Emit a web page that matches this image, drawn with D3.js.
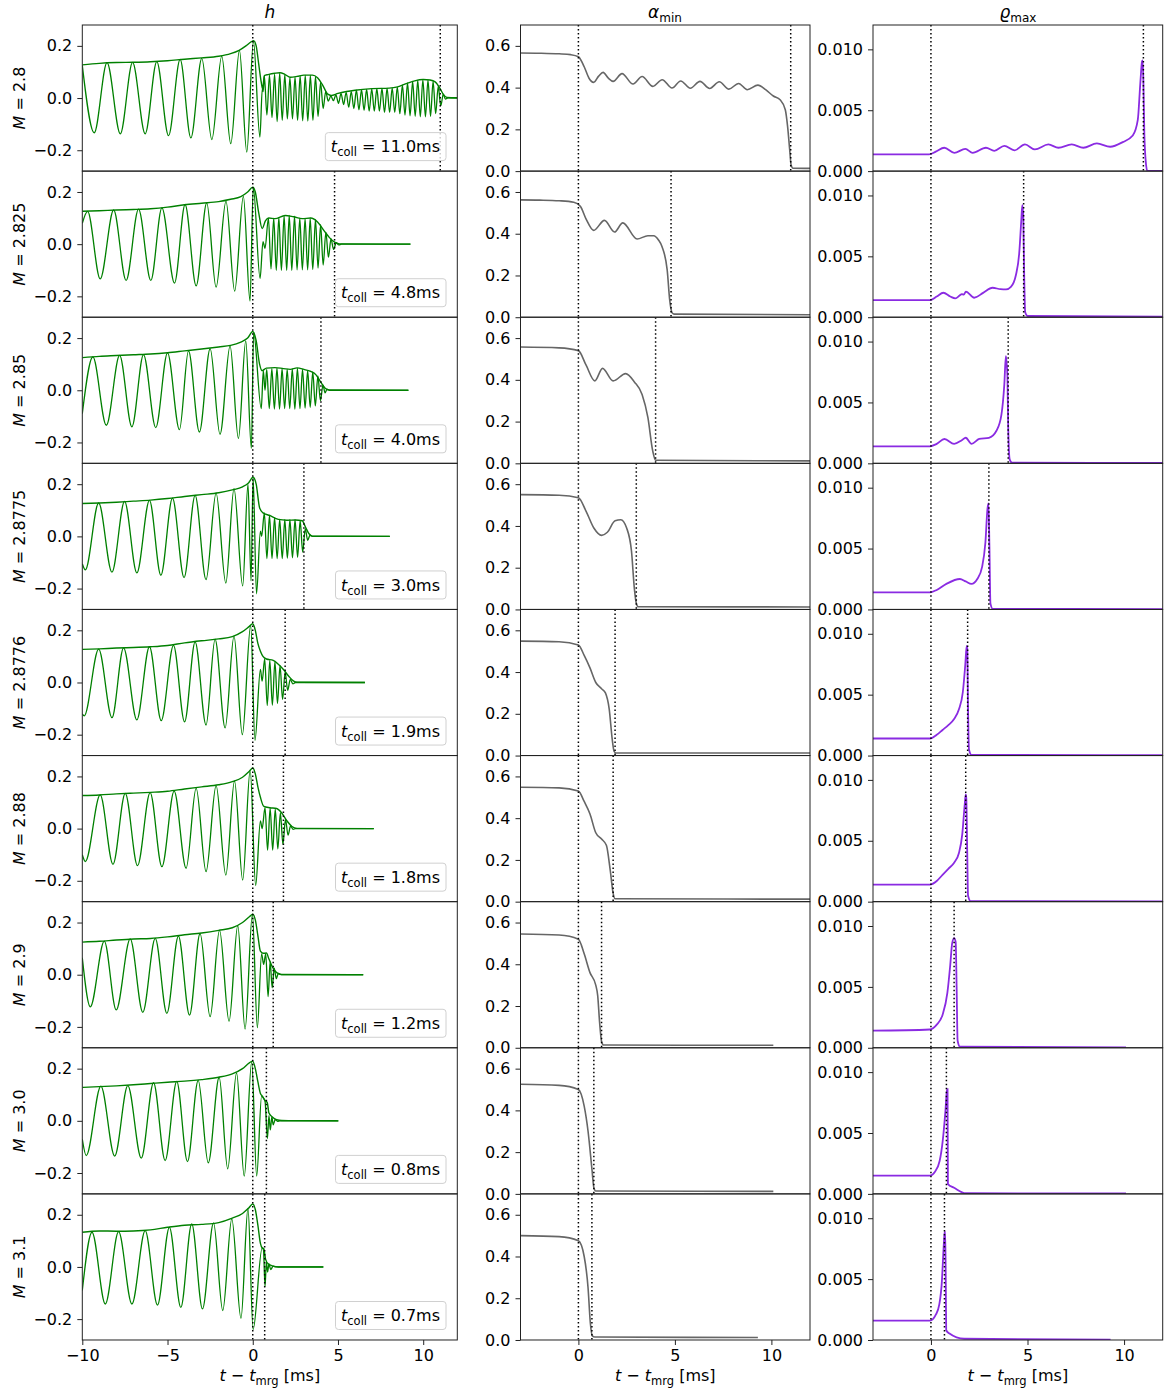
<!DOCTYPE html>
<html>
<head>
<meta charset="utf-8">
<script src="https://cdn.jsdelivr.net/npm/d3@7"></script>
<style>
  body { margin: 0; background: #fff; }
  svg { display: block; }
  text { font-family: "DejaVu Sans", sans-serif; }
</style>
</head>
<body>
<svg id="fig" width="1168" height="1390"></svg>
<script>
// ---- runs, one per row ----
const masses = ["2.8", "2.825", "2.85", "2.8775", "2.8776", "2.88", "2.9", "3.0", "3.1"];
const tColl  = [11.0, 4.8, 4.0, 3.0, 1.9, 1.8, 1.2, 0.8, 0.7];

// ---- strain h: extrema [t (ms), h] ----
const strainM2800 = [[-10,0.125],[-9.30,-0.133],[-8.55,0.136],[-7.77,-0.137],[-7.05,0.137],[-6.31,-0.137],[-5.63,0.140],[-4.94,-0.144],[-4.26,0.148],[-3.63,-0.153],[-2.99,0.152],[-2.40,-0.159],[-1.82,0.161],[-1.29,-0.175],[-0.78,0.183],[-0.35,-0.207],[0.04,0.218],[0.42,-0.15],[0.56,0.035],[0.61,0.025],
  [0.68,0.085],[0.83,-0.065],[0.98,0.088],[1.13,-0.075],[1.28,0.092],[1.43,-0.09],[1.58,0.095],[1.73,-0.085],[1.88,0.090],[2.03,-0.08],[2.18,0.078],[2.33,-0.08],[2.48,0.080],[2.63,-0.085],[2.78,0.086],[2.93,-0.087],[3.08,0.087],[3.23,-0.088],[3.38,0.087],[3.53,-0.085],[3.68,0.082],[3.83,-0.07],[3.98,0.06],[4.13,-0.04],[4.28,0.025],[4.43,-0.012],[4.58,0.008],[4.73,-0.01],[4.88,0.012],[5.03,-0.02],[5.18,0.018],[5.33,-0.025],[5.48,0.022],[5.63,-0.035],[5.78,0.025],[5.93,-0.04],[6.08,0.03],[6.23,-0.045],[6.38,0.032],[6.53,-0.047],[6.68,0.033],[6.83,-0.05],[6.98,0.035],[7.13,-0.05],[7.28,0.036],[7.43,-0.05],[7.58,0.037],[7.73,-0.055],[7.88,0.037],[8.03,-0.055],[8.18,0.038],[8.33,-0.055],[8.48,0.042],[8.63,-0.06],[8.78,0.05],[8.93,-0.065],[9.08,0.058],[9.23,-0.068],[9.38,0.064],[9.53,-0.07],[9.68,0.068],[9.83,-0.072],[9.98,0.07],[10.13,-0.072],[10.28,0.069],[10.43,-0.07],[10.58,0.064],[10.73,-0.06],[10.88,0.045],[11.03,-0.03],[11.18,0.015],[11.3,-0.004],[11.45,0.001],[12,0]];
const strainM2825 = [[-10,0.08],[-9.69,0.126],[-8.95,-0.133],[-8.16,0.131],[-7.43,-0.139],[-6.70,0.134],[-5.98,-0.139],[-5.33,0.139],[-4.59,-0.149],[-3.97,0.152],[-3.32,-0.16],[-2.70,0.158],[-2.15,-0.165],[-1.57,0.165],[-1.06,-0.18],[-0.55,0.183],[-0.16,-0.218],[0.03,0.218],
  [0.43,-0.131],[0.6,0.01],[0.72,-0.016],[0.92,0.1],[1.07,-0.095],[1.23,0.1],[1.38,-0.1],[1.53,0.103],[1.68,-0.1],[1.84,0.108],[1.99,-0.1],[2.14,0.11],[2.29,-0.1],[2.45,0.107],[2.6,-0.098],[2.76,0.1],[2.91,-0.098],[3.07,0.098],[3.22,-0.098],[3.37,0.1],[3.52,-0.097],[3.68,0.095],[3.83,-0.092],[3.98,0.075],[4.13,-0.08],[4.29,0.045],[4.44,-0.05],[4.59,0.02],[4.74,-0.02],[4.9,0.006],[5.05,-0.003],[5.2,0],[9.25,0]];
const strainM2850 = [[-10,-0.09],[-9.38,0.128],[-8.59,-0.134],[-7.81,0.134],[-7.09,-0.14],[-6.41,0.137],[-5.69,-0.143],[-5.0,0.143],[-4.3,-0.151],[-3.77,0.151],[-3.13,-0.16],[-2.5,0.16],[-1.92,-0.169],[-1.33,0.17],[-0.84,-0.185],[-0.41,0.189],[-0.08,-0.223],[0.05,0.222],
  [0.5,-0.07],[0.62,0.075],[0.72,0.0],[0.82,0.08],[0.97,-0.07],[1.12,0.083],[1.27,-0.072],[1.42,0.085],[1.57,-0.072],[1.72,0.083],[1.87,-0.07],[2.02,0.08],[2.17,-0.07],[2.32,0.082],[2.47,-0.072],[2.62,0.084],[2.77,-0.07],[2.92,0.08],[3.07,-0.068],[3.22,0.075],[3.37,-0.065],[3.52,0.07],[3.67,-0.06],[3.82,0.055],[3.97,-0.04],[4.12,0.02],[4.24,-0.01],[4.36,0.004],[4.5,0],[9.13,0]];
const strainM2877 = [[-10,-0.105],[-9.82,-0.128],[-9.04,0.128],[-8.26,-0.137],[-7.52,0.134],[-6.8,-0.14],[-6.06,0.138],[-5.39,-0.149],[-4.71,0.147],[-4.03,-0.158],[-3.38,0.157],[-2.74,-0.166],[-2.15,0.166],[-1.58,-0.179],[-1.1,0.183],[-0.59,-0.19],[-0.28,0.2],[-0.1,-0.17],[0.02,0.226],[0.22,-0.22],
  [0.45,0.02],[0.52,0.0],[0.68,0.09],[0.83,-0.085],[0.98,0.08],[1.13,-0.085],[1.28,0.072],[1.43,-0.085],[1.58,0.065],[1.73,-0.085],[1.88,0.064],[2.03,-0.083],[2.18,0.064],[2.33,-0.082],[2.48,0.064],[2.63,-0.08],[2.78,0.06],[2.93,-0.06],[3.08,0.03],[3.22,-0.015],[3.36,0.005],[3.5,0],[8.04,0]];
const strainM2878 = [[-10,-0.12],[-9.89,-0.128],[-9.04,0.128],[-8.26,-0.135],[-7.58,0.133],[-6.8,-0.143],[-6.06,0.137],[-5.37,-0.146],[-4.65,0.142],[-4.0,-0.151],[-3.38,0.156],[-2.74,-0.163],[-2.21,0.166],[-1.62,-0.174],[-1.1,0.178],[-0.61,-0.2],[-0.12,0.22],[0.13,-0.222],
  [0.45,0.05],[0.55,0.005],[0.7,0.09],[0.85,-0.088],[1.0,0.085],[1.15,-0.087],[1.3,0.08],[1.45,-0.08],[1.6,0.065],[1.75,-0.065],[1.9,0.04],[2.05,-0.03],[2.2,0.012],[2.35,-0.005],[2.5,0],[6.58,0]];
const strainM2880 = [[-10,-0.1],[-9.82,-0.126],[-8.95,0.129],[-8.2,-0.137],[-7.48,0.135],[-6.76,-0.142],[-6.02,0.138],[-5.33,-0.146],[-4.61,0.144],[-3.91,-0.152],[-3.32,0.155],[-2.74,-0.165],[-2.15,0.165],[-1.58,-0.178],[-1.07,0.183],[-0.59,-0.197],[-0.15,0.225],[0.17,-0.218],
  [0.45,0.03],[0.55,0.0],[0.72,0.08],[0.87,-0.082],[1.02,0.078],[1.17,-0.082],[1.32,0.075],[1.47,-0.078],[1.62,0.06],[1.77,-0.06],[1.92,0.035],[2.07,-0.025],[2.22,0.01],[2.37,-0.003],[2.5,0],[7.1,0]];
const strainM2900 = [[-10,0.065],[-9.53,-0.123],[-8.71,0.129],[-8.01,-0.135],[-7.19,0.137],[-6.45,-0.144],[-5.72,0.139],[-5.04,-0.148],[-4.36,0.148],[-3.71,-0.155],[-3.09,0.158],[-2.5,-0.161],[-1.95,0.171],[-1.39,-0.178],[-0.88,0.188],[-0.45,-0.208],[-0.02,0.231],[0.27,-0.203],
  [0.52,0.08],[0.64,0.04],[0.76,0.08],[0.9,-0.084],[1.02,0.05],[1.14,-0.05],[1.26,0.025],[1.38,-0.015],[1.5,0.005],[1.65,0],[6.48,0]];
const strainM3000 = [[-10,-0.07],[-9.77,-0.133],[-8.91,0.133],[-8.1,-0.135],[-7.33,0.135],[-6.54,-0.143],[-5.82,0.146],[-5.14,-0.152],[-4.46,0.151],[-3.83,-0.156],[-3.2,0.155],[-2.61,-0.161],[-1.97,0.167],[-1.47,-0.184],[-0.95,0.184],[-0.5,-0.212],[-0.06,0.227],[0.23,-0.212],
  [0.52,0.095],[0.72,0.075],[0.86,-0.068],[0.95,0.02],[1.03,-0.035],[1.12,0.015],[1.2,-0.015],[1.32,0.005],[1.45,-0.002],[1.6,0],[5.02,0]];
const strainM3100 = [[-10,-0.09],[-9.43,0.133],[-8.65,-0.142],[-7.87,0.135],[-7.09,-0.142],[-6.31,0.139],[-5.59,-0.146],[-4.89,0.152],[-4.22,-0.155],[-3.58,0.165],[-2.95,-0.161],[-2.3,0.169],[-1.76,-0.167],[-1.23,0.184],[-0.69,-0.197],[-0.28,0.225],[0.02,-0.24],
  [0.55,0.072],[0.63,0.065],[0.72,-0.075],[0.8,0.02],[0.87,-0.02],[0.95,0.012],[1.05,-0.01],[1.2,0.003],[1.35,0],[4.14,0]];

// ---- strain amplitude |h| ----
const ampM2800 = [[-10,0.127],[-9,0.133],[-8,0.136],[-7,0.137],[-6,0.139],[-5,0.143],[-4,0.149],[-3,0.154],[-2,0.16],[-1.3,0.17],[-0.8,0.183],[-0.4,0.2],[-0.1,0.215],[0.05,0.22],[0.2,0.2],[0.35,0.13],[0.5,0.06],[0.58,0.035],[0.68,0.086],[0.9,0.09],[1.3,0.095],[1.6,0.097],[1.9,0.09],[2.2,0.08],[2.6,0.083],[3.0,0.088],[3.5,0.088],[3.8,0.078],[4.1,0.05],[4.4,0.015],[4.6,0.01],[5.0,0.018],[5.5,0.025],[6,0.03],[7,0.036],[8,0.038],[8.5,0.043],[9,0.055],[9.5,0.066],[10,0.071],[10.4,0.069],[10.7,0.062],[11.0,0.035],[11.2,0.012],[11.4,0.002],[12,0.001]];
const ampM2825 = [[-10,0.126],[-9,0.128],[-8,0.131],[-7,0.133],[-6,0.136],[-5,0.142],[-4,0.151],[-3,0.157],[-2,0.163],[-1.3,0.172],[-0.7,0.182],[-0.3,0.2],[0.0,0.218],[0.15,0.2],[0.35,0.12],[0.55,0.06],[0.75,0.09],[0.95,0.1],[1.3,0.098],[1.9,0.11],[2.4,0.105],[2.9,0.098],[3.4,0.1],[3.8,0.085],[4.2,0.05],[4.5,0.025],[4.8,0.008],[5.1,0.001],[9.25,0.0]];
const ampM2850 = [[-10,0.125],[-9,0.13],[-8,0.133],[-7,0.136],[-6,0.139],[-5,0.144],[-4,0.151],[-3,0.158],[-2,0.166],[-1.3,0.172],[-0.7,0.185],[-0.3,0.2],[0.0,0.225],[0.2,0.19],[0.4,0.1],[0.55,0.075],[0.8,0.085],[1.3,0.087],[1.8,0.083],[2.2,0.08],[2.6,0.086],[3.0,0.08],[3.4,0.072],[3.7,0.06],[4.0,0.03],[4.25,0.008],[4.5,0.001],[9.13,0]];
const ampM2877 = [[-10,0.126],[-9,0.128],[-8,0.131],[-7,0.135],[-6,0.139],[-5,0.145],[-4,0.153],[-3,0.16],[-2,0.167],[-1.2,0.178],[-0.6,0.19],[-0.25,0.205],[0.02,0.227],[0.2,0.2],[0.4,0.11],[0.6,0.09],[1.0,0.08],[1.5,0.065],[2.0,0.062],[2.5,0.063],[2.9,0.06],[3.1,0.035],[3.3,0.01],[3.5,0.001],[8.04,0]];
const ampM2878 = [[-10,0.127],[-9,0.129],[-8,0.132],[-7,0.134],[-6,0.137],[-5,0.142],[-4,0.152],[-3,0.16],[-2,0.167],[-1.2,0.176],[-0.6,0.195],[-0.2,0.215],[0.0,0.225],[0.15,0.2],[0.3,0.15],[0.45,0.12],[0.6,0.1],[0.8,0.09],[1.2,0.085],[1.5,0.07],[1.8,0.05],[2.1,0.025],[2.4,0.005],[2.6,0.001],[6.58,0]];
const ampM2880 = [[-10,0.127],[-9,0.129],[-8,0.133],[-7,0.136],[-6,0.139],[-5,0.143],[-4,0.152],[-3,0.16],[-2,0.168],[-1.2,0.18],[-0.6,0.197],[-0.2,0.22],[0.0,0.232],[0.15,0.21],[0.3,0.16],[0.45,0.12],[0.65,0.085],[1.0,0.08],[1.4,0.077],[1.7,0.06],[2.0,0.03],[2.3,0.008],[2.6,0.001],[7.1,0]];
const ampM2900 = [[-10,0.125],[-9,0.128],[-8,0.133],[-7,0.137],[-6,0.139],[-5,0.145],[-4,0.153],[-3,0.16],[-2,0.17],[-1.2,0.18],[-0.6,0.2],[-0.2,0.222],[0.0,0.232],[0.15,0.21],[0.3,0.15],[0.45,0.09],[0.6,0.082],[0.8,0.083],[0.95,0.06],[1.15,0.03],[1.4,0.008],[1.7,0.001],[6.48,0]];
const ampM3000 = [[-10,0.128],[-9,0.131],[-8,0.134],[-7,0.138],[-6,0.143],[-5,0.148],[-4,0.152],[-3,0.158],[-2,0.167],[-1.2,0.18],[-0.6,0.2],[-0.2,0.222],[0.0,0.229],[0.15,0.2],[0.3,0.15],[0.45,0.105],[0.55,0.095],[0.72,0.078],[0.85,0.07],[0.95,0.03],[1.15,0.015],[1.4,0.004],[1.7,0.001],[5.02,0]];
const ampM3100 = [[-10,0.133],[-9,0.138],[-8,0.137],[-7,0.138],[-6,0.142],[-5,0.152],[-4,0.16],[-3,0.163],[-2,0.17],[-1.2,0.187],[-0.6,0.205],[-0.25,0.225],[0.0,0.241],[0.15,0.22],[0.3,0.16],[0.45,0.09],[0.55,0.073],[0.65,0.07],[0.75,0.03],[0.9,0.012],[1.2,0.003],[1.5,0.0],[4.14,0]];

// ---- minimum lapse alpha_min ----
const lapseM2800 = [[-3,0.566],[-2,0.565],[-1,0.562],[-0.4,0.558],[0,0.548],[0.3,0.5],[0.55,0.445],[0.79,0.425],[1.05,0.455],[1.28,0.473],[1.55,0.445],[1.8,0.43],[2.26,0.467],[2.83,0.417],[3.30,0.453],[3.86,0.406],[4.34,0.438],[4.85,0.398],[5.3,0.432],[5.8,0.397],[6.3,0.43],[6.8,0.396],[7.3,0.428],[7.8,0.393],[8.3,0.42],[8.75,0.39],[9.3,0.412],[9.7,0.39],[10.1,0.36],[10.45,0.342],[10.72,0.294],[10.84,0.213],[10.95,0.1],[11.02,0.03],[11.12,0.014],[12,0.013]];
const lapseM2825 = [[-3,0.562],[-2,0.561],[-1,0.558],[-0.24,0.551],[0.1,0.532],[0.4,0.47],[0.79,0.416],[1.35,0.464],[1.87,0.408],[2.3,0.452],[3.04,0.375],[3.6,0.39],[3.9,0.39],[4.15,0.37],[4.33,0.339],[4.6,0.227],[4.73,0.083],[4.85,0.022],[4.95,0.015],[12,0.012]];
const lapseM2850 = [[-3,0.557],[-1,0.553],[0,0.54],[0.4,0.47],[0.85,0.395],[1.25,0.455],[1.8,0.395],[2.45,0.43],[2.9,0.39],[3.3,0.33],[3.6,0.22],[3.85,0.06],[4.0,0.015],[12,0.012]];
const lapseM2877 = [[-3,0.55],[-1,0.547],[0,0.535],[0.4,0.47],[0.8,0.39],[1.2,0.355],[1.5,0.37],[1.9,0.425],[2.2,0.43],[2.5,0.39],[2.75,0.28],[2.9,0.1],[3.0,0.03],[3.1,0.013],[12,0.012]];
const lapseM2878 = [[-3,0.548],[-1,0.545],[0,0.53],[0.3,0.48],[0.6,0.42],[0.9,0.35],[1.2,0.32],[1.4,0.3],[1.6,0.22],[1.75,0.08],[1.85,0.02],[1.95,0.012],[12,0.012]];
const lapseM2880 = [[-3,0.548],[-1,0.545],[0,0.53],[0.3,0.48],[0.6,0.42],[0.9,0.33],[1.2,0.3],[1.45,0.27],[1.65,0.15],[1.8,0.04],[1.9,0.014],[12,0.012]];
const lapseM2900 = [[-3,0.545],[-1,0.54],[0,0.52],[0.3,0.45],[0.6,0.36],[0.9,0.3],[1.0,0.25],[1.1,0.12],[1.2,0.03],[1.3,0.013],[10.1,0.012]];
const lapseM3000 = [[-3,0.525],[-1,0.52],[0,0.5],[0.3,0.42],[0.5,0.3],[0.7,0.12],[0.8,0.03],[0.9,0.014],[10.1,0.012]];
const lapseM3100 = [[-3,0.5],[-1,0.495],[0,0.475],[0.3,0.4],[0.5,0.25],[0.62,0.08],[0.72,0.02],[0.85,0.014],[9.3,0.012]];

// ---- maximum rest-mass density rho_max ----
const rhoM2800 = [[-3,0.00137],[-0.1,0.00137],[0.25,0.0016],[0.69,0.00192],[1.21,0.0015],[1.78,0.00183],[2.16,0.0015],[2.85,0.00192],[3.28,0.00167],[3.8,0.00208],[4.32,0.0017],[4.87,0.00219],[5.38,0.00178],[6.08,0.00219],[6.6,0.00192],[7.29,0.00219],[7.89,0.00192],[8.59,0.00227],[9.28,0.002],[9.93,0.00238],[10.45,0.00292],[10.71,0.0042],[10.84,0.0072],[10.93,0.009],[10.96,0.0091],[11.0,0.0074],[11.05,0.003],[11.14,0.0005],[11.2,0.00003],[12,0.00002]];
const rhoM2825 = [[-3,0.00141],[-0.05,0.00141],[0.3,0.0017],[0.64,0.00201],[1.0,0.0017],[1.26,0.00155],[1.5,0.0018],[1.6,0.0019],[1.7,0.00185],[1.81,0.0021],[2.24,0.0016],[2.7,0.002],[3.19,0.00242],[3.6,0.0023],[3.89,0.00228],[4.14,0.00249],[4.4,0.00347],[4.57,0.00525],[4.68,0.008],[4.73,0.0092],[4.76,0.0088],[4.78,0.0083],[4.83,0.0033],[4.88,0.0004],[5.0,0.0001],[12,0.00005]];
const rhoM2850 = [[-3,0.0014],[-0.05,0.0014],[0.3,0.0016],[0.7,0.002],[1.2,0.0016],[1.6,0.0019],[1.8,0.0021],[2.1,0.0016],[2.5,0.002],[3.0,0.0021],[3.4,0.0027],[3.65,0.004],[3.8,0.0065],[3.88,0.0088],[3.92,0.0082],[3.96,0.0072],[4.0,0.003],[4.08,0.0003],[4.2,0.00005],[12,0.00003]];
const rhoM2877 = [[-3,0.0014],[-0.05,0.0014],[0.3,0.0016],[0.8,0.0021],[1.5,0.0025],[1.8,0.0023],[2.1,0.0021],[2.4,0.0025],[2.65,0.0035],[2.82,0.0055],[2.93,0.0083],[2.98,0.0087],[3.03,0.005],[3.08,0.0005],[3.2,0.00005],[12,0.00003]];
const rhoM2878 = [[-3,0.0014],[-0.05,0.0014],[0.3,0.0017],[0.6,0.0021],[0.9,0.0025],[1.2,0.003],[1.45,0.0038],[1.65,0.0052],[1.78,0.0075],[1.85,0.009],[1.88,0.0088],[1.92,0.004],[1.97,0.0005],[2.1,0.00005],[12,0.00003]];
const rhoM2880 = [[-3,0.0014],[-0.05,0.0014],[0.3,0.0017],[0.6,0.0022],[0.9,0.0027],[1.2,0.0032],[1.45,0.004],[1.62,0.0055],[1.75,0.008],[1.8,0.0088],[1.83,0.0085],[1.88,0.004],[1.92,0.0005],[2.05,0.00005],[12,0.00003]];
const rhoM2900 = [[-3,0.0014],[-0.05,0.0015],[0.3,0.0019],[0.6,0.0027],[0.85,0.0045],[1.0,0.0068],[1.1,0.0086],[1.2,0.009],[1.28,0.0087],[1.33,0.005],[1.38,0.0006],[1.5,0.0001],[10.1,0.00003]];
const rhoM3000 = [[-3,0.0015],[-0.05,0.0015],[0.2,0.0018],[0.45,0.0027],[0.62,0.0045],[0.75,0.0068],[0.83,0.0085],[0.86,0.0086],[0.88,0.0008],[1.2,0.0005],[1.8,0.00005],[10.1,0.00003]];
const rhoM3100 = [[-3,0.00159],[-0.05,0.00159],[0.26,0.0021],[0.43,0.0029],[0.57,0.0049],[0.64,0.0071],[0.71,0.0088],[0.74,0.0089],[0.77,0.0045],[0.79,0.0008],[0.94,0.00055],[1.72,0.0001],[9.3,0.00003]];

const strainRuns = [strainM2800, strainM2825, strainM2850, strainM2877, strainM2878, strainM2880, strainM2900, strainM3000, strainM3100];
const ampRuns    = [ampM2800, ampM2825, ampM2850, ampM2877, ampM2878, ampM2880, ampM2900, ampM3000, ampM3100];
const lapseRuns  = [lapseM2800, lapseM2825, lapseM2850, lapseM2877, lapseM2878, lapseM2880, lapseM2900, lapseM3000, lapseM3100];
const rhoRuns    = [rhoM2800, rhoM2825, rhoM2850, rhoM2877, rhoM2878, rhoM2880, rhoM2900, rhoM3000, rhoM3100];

// ---- axis settings per column ----
const xDomains = [[-10, 12], [-3, 12], [-3, 12]];
const yDomains = [[-0.28, 0.28], [0, 0.7], [0, 0.012]];
const xTickVals = [[-10, -5, 0, 5, 10], [0, 5, 10], [0, 5, 10]];
const yTickVals = [[-0.2, 0, 0.2], [0, 0.2, 0.4, 0.6], [0, 0.005, 0.01]];
const yTickFmt = [d3.format(".1f"), d3.format(".1f"), d3.format(".3f")];

// ---- layout ----
const colRange = [[82.3, 457.3], [520.5, 810], [873, 1162.7]];
const top0 = 25, rowH = 146.11, nRows = masses.length;
const FS = 16;
const colors = { strain: "#008000", lapse: "#666666", rho: "#8a2be2" };

const svg = d3.select("#fig");
const defs = svg.append("defs");

for (let r = 0; r < nRows; r++) {
  const y0 = top0 + r * rowH, y1 = y0 + rowH;
  for (let c = 0; c < 3; c++) {
    const x = d3.scaleLinear().domain(xDomains[c]).range(colRange[c]);
    const y = d3.scaleLinear().domain(yDomains[c]).range([y1, y0]);
    const id = `clip-${r}-${c}`;
    defs.append("clipPath").attr("id", id).append("rect")
      .attr("x", colRange[c][0]).attr("y", y0)
      .attr("width", colRange[c][1] - colRange[c][0]).attr("height", rowH);

    const g = svg.append("g");
    const plot = g.append("g").attr("clip-path", `url(#${id})`);
    const line = d3.line().x(d => x(d[0])).y(d => y(d[1])).curve(d3.curveMonotoneX);

    if (c === 0) {
      plot.append("path").datum(strainRuns[r]).attr("d", line)
        .attr("fill", "none").attr("stroke", colors.strain).attr("stroke-width", 1.3);
      plot.append("path").datum(ampRuns[r]).attr("d", line)
        .attr("fill", "none").attr("stroke", colors.strain).attr("stroke-width", 1.4);
    } else if (c === 1) {
      plot.append("path").datum(lapseRuns[r]).attr("d", line)
        .attr("fill", "none").attr("stroke", colors.lapse).attr("stroke-width", 1.6);
    } else {
      plot.append("path").datum(rhoRuns[r]).attr("d", line)
        .attr("fill", "none").attr("stroke", colors.rho).attr("stroke-width", 1.8);
    }

    // merger and collapse times
    plot.selectAll("line.vt").data([0, tColl[r]]).join("line").attr("class", "vt")
      .attr("x1", d => x(d)).attr("x2", d => x(d)).attr("y1", y0).attr("y2", y1)
      .attr("stroke", "#000").attr("stroke-width", 1.5).attr("stroke-dasharray", "1.5,2.5");

    // frame
    g.append("rect").attr("x", colRange[c][0]).attr("y", y0)
      .attr("width", colRange[c][1] - colRange[c][0]).attr("height", rowH)
      .attr("fill", "none").attr("stroke", "#222").attr("stroke-width", 1);

    // y axis
    const ya = g.append("g").attr("transform", `translate(${colRange[c][0]},0)`)
      .call(d3.axisLeft(y).tickValues(yTickVals[c]).tickFormat(yTickFmt[c]).tickSize(5).tickPadding(5));
    ya.select(".domain").remove();
    ya.selectAll("text").attr("font-size", FS).attr("font-family", "DejaVu Sans").attr("fill", "#000");
    ya.selectAll("line").attr("stroke", "#222");

    // x axis on the bottom row
    if (r === nRows - 1) {
      const xa = g.append("g").attr("transform", `translate(0,${y1})`)
        .call(d3.axisBottom(x).tickValues(xTickVals[c]).tickFormat(d3.format("d")).tickSize(5).tickPadding(5));
      xa.select(".domain").remove();
      xa.selectAll("text").attr("font-size", FS).attr("font-family", "DejaVu Sans").attr("fill", "#000");
      xa.selectAll("line").attr("stroke", "#222");
      const xl = g.append("text").attr("x", (colRange[c][0] + colRange[c][1]) / 2).attr("y", 1381)
        .attr("text-anchor", "middle").attr("font-size", FS);
      xl.append("tspan").attr("font-style", "italic").text("t");
      xl.append("tspan").text(" \u2212 ");
      xl.append("tspan").attr("font-style", "italic").text("t");
      xl.append("tspan").attr("font-size", 11.5).attr("dy", 3.5).text("mrg");
      xl.append("tspan").attr("dy", -3.5).text(" [ms]");
    }

    if (c === 0) {
      // row label
      const yl = g.append("text")
        .attr("transform", `translate(24.5,${(y0 + y1) / 2}) rotate(-90)`)
        .attr("text-anchor", "middle").attr("font-size", FS);
      yl.append("tspan").attr("font-style", "italic").text("M");
      yl.append("tspan").text(" = " + masses[r]);

      // collapse-time legend
      const lg = g.append("g");
      const box = lg.append("rect");
      const txt = lg.append("text").attr("font-size", FS).attr("fill", "#000");
      txt.append("tspan").attr("font-style", "italic").text("t");
      txt.append("tspan").attr("font-size", 11.5).attr("dy", 4).text("coll");
      txt.append("tspan").attr("dy", -4).text(" = " + tColl[r].toFixed(1) + "ms");
      const w = txt.node().getComputedTextLength();
      const boxR = colRange[0][1] - 11.3, boxB = y1 - 10.5, boxH = 28;
      const tx = boxR - 6 - w;
      txt.attr("x", tx).attr("y", boxB - 8.3);
      box.attr("x", tx - 5.5).attr("y", boxB - boxH).attr("width", w + 11.5).attr("height", boxH)
        .attr("rx", 3).attr("fill", "#fff").attr("fill-opacity", 0.8)
        .attr("stroke", "#d0d0d0").attr("stroke-width", 1);
    }
  }
}

// column titles
const titles = [
  { x: 270, main: "h", sub: null },
  { x: 665, main: "\u03b1", sub: "min" },
  { x: 1018, main: "\u03f1", sub: "max" }
];
titles.forEach(t => {
  const tt = svg.append("text").attr("x", t.x).attr("y", 18).attr("text-anchor", "middle").attr("font-size", 17);
  tt.append("tspan").attr("font-style", "italic").text(t.main);
  if (t.sub) tt.append("tspan").attr("font-size", 12).attr("dy", 3.5).text(t.sub);
});
</script>
</body>
</html>
